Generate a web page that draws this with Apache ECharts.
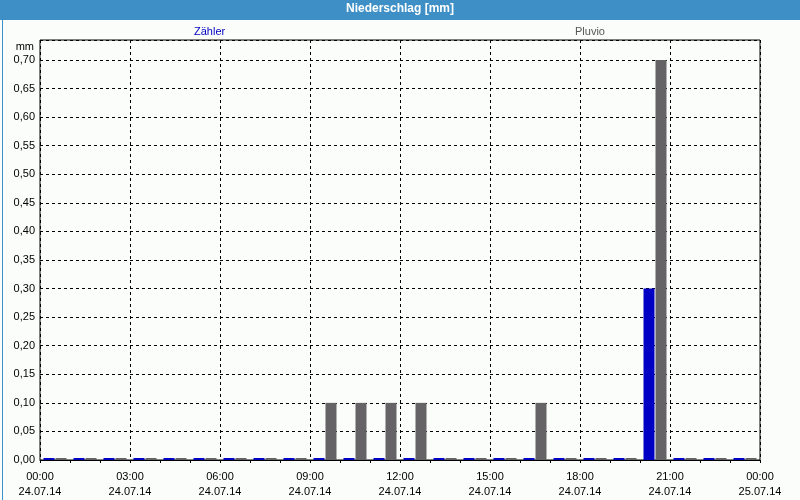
<!DOCTYPE html>
<html>
<head>
<meta charset="utf-8">
<script src="https://cdn.jsdelivr.net/npm/echarts@6/dist/echarts.min.js"></script>
<style>
html,body{margin:0;padding:0;background:#fbfdfb;}
#chart{width:800px;height:500px;}
</style>
</head>
<body>
<div id="chart"></div>
<script>
// Hourly buckets 00..23 on 24.07.14
const hours = ['00','01','02','03','04','05','06','07','08','09','10','11','12','13','14','15','16','17','18','19','20','21','22','23'];
const zaehler = [0,0,0,0,0,0,0,0,0,0,0,0,0,0,0,0,0,0,0,0,0.30,0,0,0];
const pluvio  = [0,0,0,0,0,0,0,0,0,0.10,0.10,0.10,0.10,0,0,0,0.10,0,0,0,0.70,0,0,0];
const timeLabels = ['00:00','03:00','06:00','09:00','12:00','15:00','18:00','21:00','00:00'];
const dateLabels = ['24.07.14','24.07.14','24.07.14','24.07.14','24.07.14','24.07.14','24.07.14','24.07.14','25.07.14'];

const FONT = 'Liberation Sans';
const chart = echarts.init(document.getElementById('chart'), null, {renderer:'canvas'});
chart.setOption({
  backgroundColor: '#fbfdfb',
  animation: false,
  textStyle: {fontFamily: FONT},
  graphic: [
    {type:'rect', left:0, top:0, shape:{width:800, height:20}, style:{fill:'#3d8fc6'}, z:-1},
    {type:'rect', left:0, top:0, shape:{x:0.5, y:0.5, width:799, height:499}, style:{fill:'none', stroke:'#3d8fc6', lineWidth:1}, z:-1},
    {type:'text', right:766, top:41, style:{text:'mm', fill:'#000', font:'11px ' + FONT, textAlign:'right'}}
  ],
  title: {
    text: 'Niederschlag [mm]',
    left: 'center', top: 3,
    padding: 0,
    textStyle: {color:'#ffffff', fontSize:12, fontWeight:'bold', fontFamily: FONT}
  },
  legend: [
    {data:[{name:'Zähler', textStyle:{color:'#0000c0'}}], left:189, top:26, itemWidth:0, itemHeight:0, padding:0,
     selectedMode:false, textStyle:{fontSize:11, fontFamily: FONT}},
    {data:[{name:'Pluvio', textStyle:{color:'#555555'}}], left:570, top:26, itemWidth:0, itemHeight:0, padding:0,
     selectedMode:false, textStyle:{fontSize:11, fontFamily: FONT}}
  ],
  grid: {left:40, right:40, top:40, bottom:40, show:true, borderColor:'#000', borderWidth:1, backgroundColor:'transparent'},
  xAxis: [
    {
      type:'category', data: hours, position:'bottom',
      axisLine:{show:true, lineStyle:{color:'#000', width:1}},
      axisTick:{show:true, interval:0, length:3, lineStyle:{color:'#000'}},
      axisLabel:{show:false},
      splitLine:{show:false}
    },
    {
      type:'value', min:0, max:24, interval:3, position:'bottom',
      axisLine:{show:false}, axisTick:{show:false},
      axisLabel:{
        show:true, margin:9, color:'#000', fontSize:11, fontFamily: FONT, lineHeight:15,
        formatter: v => timeLabels[Math.round(v/3)] + '\n' + dateLabels[Math.round(v/3)]
      },
      splitLine:{show:true, lineStyle:{color:'#000', type:[3,3], width:1}}
    }
  ],
  yAxis: {
    type:'value', min:0, max:0.735, interval:0.05,
    axisLine:{show:false}, axisTick:{show:false},
    axisLabel:{color:'#000', fontSize:11, fontFamily: FONT, margin:5, showMaxLabel:false,
      formatter: v => (Math.abs(v/0.05 - Math.round(v/0.05)) < 1e-6) ? v.toFixed(2).replace('.', ',') : ''},
    splitLine:{show:true, lineStyle:{color:'#000', type:[3,3], width:1}}
  },
  series: [
    {name:'Zähler', type:'bar', xAxisIndex:0, data: zaehler, barWidth:11, barGap:'9%', barMinHeight:2,
     itemStyle:{color:'#0000c4'}},
    {name:'Pluvio', type:'bar', xAxisIndex:0, data: pluvio, barWidth:11, barMinHeight:2,
     itemStyle:{color:'#656365'}}
  ]
});
</script>
</body>
</html>
